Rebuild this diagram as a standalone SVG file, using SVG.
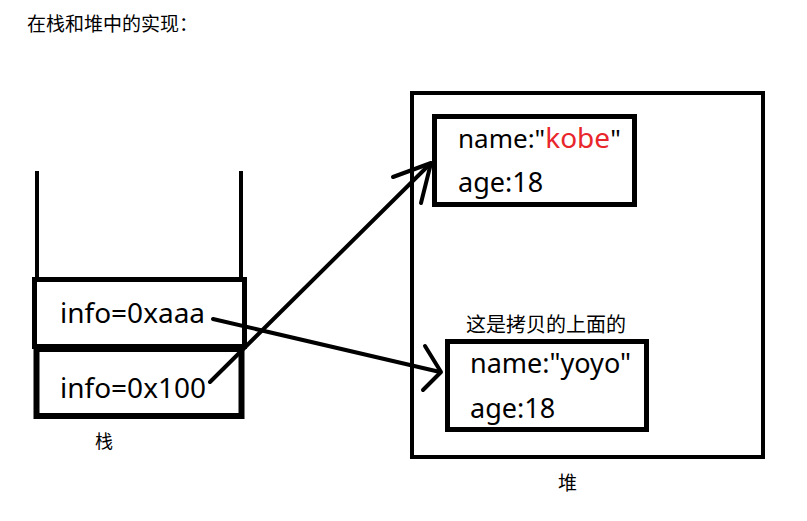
<svg xmlns="http://www.w3.org/2000/svg" width="807" height="521" viewBox="0 0 807 521">
<style>
.box{fill:none;stroke:#000;stroke-width:5}
.ln{fill:none;stroke:#000;stroke-width:4;stroke-linecap:round;stroke-linejoin:round}
.t{font-family:"Noto Sans","Noto Sans CJK SC",sans-serif;font-size:27px;fill:#000}
.c{font-family:"Noto Sans CJK SC","Noto Sans",sans-serif;font-size:18px;fill:#000}
</style>
<rect width="807" height="521" fill="#fff"/>
<text class="c" x="27" y="31" style="font-size:19px">在栈和堆中的实现：</text>
<g id="stack">
<line class="ln" x1="37" y1="171" x2="37" y2="279" style="stroke-linecap:butt"/>
<line class="ln" x1="241" y1="171" x2="241" y2="279" style="stroke-linecap:butt"/>
<text class="c" x="95" y="448">栈</text>
</g>
<g id="slot1">
<rect class="box" x="34.5" y="279.5" width="210" height="67"/>
<text class="t" x="60" y="323" style="font-size:28px">info=0xaaa</text>
</g>
<g id="slot2">
<rect class="box" x="36.5" y="349" width="205" height="67" style="stroke-width:6"/>
<text class="t" x="60" y="398" style="font-size:28px">info=0x100</text>
</g>
<g id="heap">
<rect class="box" x="412" y="93" width="351" height="364" style="stroke-width:4"/>
<text class="c" x="558" y="490" style="font-size:19px">堆</text>
</g>
<g id="kobe">
<rect class="box" x="434.5" y="116.5" width="200" height="88"/>
<text class="t" x="458" y="148" style="font-size:26px">name:"<tspan fill="#e8262b" font-size="28">kobe</tspan>"</text>
<text class="t" x="458" y="192">age:18</text>
</g>
<g id="yoyo">
<text class="c" x="466" y="332" style="font-size:20px">这是拷贝的上面的</text>
<rect class="box" x="447.5" y="341.5" width="199" height="88"/>
<text class="t" x="470" y="373">name:"yoyo"</text>
<text class="t" x="470" y="418">age:18</text>
</g>
<g id="connectors">
<line class="ln" x1="213" y1="319" x2="440" y2="372"/>
<polyline class="ln" points="425,346 441,372 423,390"/>
<line class="ln" x1="210" y1="382" x2="430" y2="164"/>
<polyline class="ln" points="393,177 431,163 421,203"/>
</g>
</svg>
